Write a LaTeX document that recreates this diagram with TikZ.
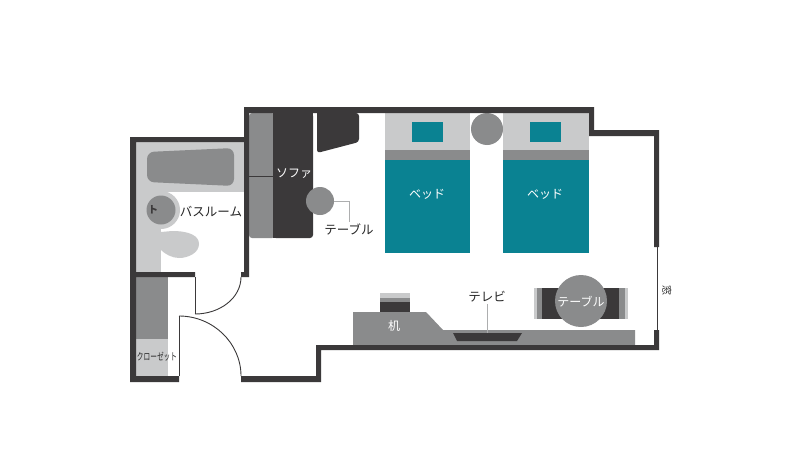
\documentclass[tikz,border=0pt]{standalone}
\usepackage{graphicx}
\usepackage{fontspec}
\setmainfont{Noto Sans CJK JP}
\definecolor{wallc}{HTML}{3B393A}
\definecolor{midg}{HTML}{8A8B8C}
\definecolor{lightg}{HTML}{C9CACB}
\definecolor{tealc}{HTML}{0A8292}
\tikzset{
  wall/.style={fill=wallc,draw=none},
  mid/.style={fill=midg,draw=none},
  lite/.style={fill=lightg,draw=none},
  teal/.style={fill=tealc,draw=none},
  dark/.style={fill=wallc,draw=none},
  thinwall/.style={draw=wallc,line width=0.9pt},
  leader/.style={draw=midg!70,line width=0.8pt},
  wlabel/.style={text=white,inner sep=0pt,font=\fontsize{12}{12}\selectfont},
  dlabel/.style={text=black!85,inner sep=0pt,font=\fontsize{12.5}{13}\selectfont},
}
\begin{document}
\begin{tikzpicture}[x=1pt,y=-1pt]
\useasboundingbox (0,0) rectangle (800,471);
\fill[white] (0,0) rectangle (800,471);
% bathroom floor
\fill[lite] (136,142) rectangle (244,192);
\fill[lite] (136,192) rectangle (161,272);
\fill[lite] (161,210) circle (19);
\fill[lite] (161,232) -- (172,231) .. controls (190,231) and (199,236) .. (199,244) .. controls (199,253) and (188,258) .. (179,258) .. controls (172,258) and (165,254) .. (161,250) -- cycle;
\fill[mid,rounded corners=7pt] (147,152) -- (234,148) -- (234,186) -- (147,182) -- cycle;
\fill[mid] (161,210) circle (14.5);
\node[inner sep=0pt,text=wallc,font=\fontsize{10}{10}\selectfont\bfseries] (toilet) at (153,210) {ト};
% closet
\fill[mid] (136,277) rectangle (168,339);
\fill[lite] (136,339) rectangle (168,376);
% sofa
\fill[mid,rounded corners=3pt] (249,113) -- (249,238) -- (275,238) -- (275,113) -- cycle;
\fill[dark,rounded corners=3pt] (273,113) -- (273,238) -- (313,238) -- (313,113) -- cycle;
\fill[dark] (273,113) rectangle (313,120);
\fill[dark] (273,230) rectangle (280,238);
\draw[wallc,line width=0.8pt] (249,176) -- (273,176);
% chair top
\fill[dark,rounded corners=3pt] (317,113) -- (359,113) -- (359,142) -- (317,153) -- cycle;
\fill[dark] (317,113) rectangle (355,118);
% side table
\node[circle,fill=midg,draw=none,minimum size=28pt,inner sep=0pt] (sidetable) at (320,201) {};
\coordinate (sidebend) at (349,201);
\node[dlabel] (sidelabel) at (349,229) {テーブル};
\draw[leader] (sidetable.east) -- (sidebend) -- (349,222);
% beds
\fill[lite] (384.5,113) rectangle (470,150);
\fill[mid] (384.5,149.5) rectangle (470,160);
\fill[teal] (384.5,160) rectangle (470,252.5);
\fill[teal] (412,122) rectangle (443,141.5);
\fill[lite] (502.5,113) rectangle (589,150);
\fill[mid] (502.5,149.5) rectangle (589,160);
\fill[teal] (502.5,160) rectangle (589,252.5);
\fill[teal] (530,122) rectangle (561,141.5);
\fill[mid] (487,129) circle (16);
% desk
\fill[mid] (353,312) -- (426,312) -- (443,330) -- (635,330) -- (635,346) -- (353,346) -- cycle;
\fill[lightg] (380,293) rectangle (410,298);
\fill[mid] (380,298) rectangle (410,302);
\fill[dark] (380,302) rectangle (410,312);
\fill[dark] (453,333) -- (522,333) -- (517,341) -- (457,341) -- cycle;
\node[dlabel] (tvlabel) at (487,297) {テレビ};
\coordinate (tv) at (487,333);
\draw[leader] (tv) -- (487,304);
% round table with chairs
\fill[lightg] (534,288) rectangle (628,319);
\fill[mid] (537,288) rectangle (625,319);
\fill[dark] (542,288) rectangle (619,319);
\fill[midg] (581,301) circle (26);
\node[wlabel] (tablelabel) at (581,302) {テーブル};
% walls
\fill[wall] (130,137) -- (244,137) -- (244,107) -- (594,107) -- (594,130) -- (659,130) -- (659,247) -- (654,247) -- (654,136) -- (589,136) -- (589,113) -- (249,113) -- (249,277) -- (241,277) -- (241,272) -- (244,272) -- (244,142) -- (136,142) -- (136,272) -- (195,272) -- (195,277) -- (136,277) -- (136,376) -- (179,376) -- (179,382) -- (130,382) -- cycle;
\fill[wall] (241,376) -- (316,376) -- (316,345) -- (654,345) -- (654,330) -- (659,330) -- (659,350) -- (321,350) -- (321,382) -- (241,382) -- cycle;
% window and doors
\draw[thinwall] (657,247) -- (657,330);
\draw[thinwall] (195,277) -- (195,314);
\draw[thinwall] (195,314) .. controls (220,314) and (241,298) .. (241,277);
\draw[thinwall] (179,376) -- (179,316);
\draw[thinwall] (179,316) .. controls (213,316) and (241,343) .. (241,376);
% labels
\node[wlabel] (sofa) at (294,174) {ソファ};
\node[dlabel] (bath) at (211,212) {バスルーム};
\node[wlabel] (bed1) at (427,194) {ベッド};
\node[wlabel] (bed2) at (545,194) {ベッド};
\node[wlabel] (desklabel) at (394,326) {机};
\node[inner sep=0pt,text=black!85,font=\fontsize{10}{10}\selectfont] (closet) at (157,357) {\scalebox{0.67}[1]{クローゼット}};
\node[inner sep=0pt,rotate=-90,text=black!85,font=\fontsize{10}{10}\selectfont] (window) at (667,290) {窓};
\end{tikzpicture}
\end{document}
